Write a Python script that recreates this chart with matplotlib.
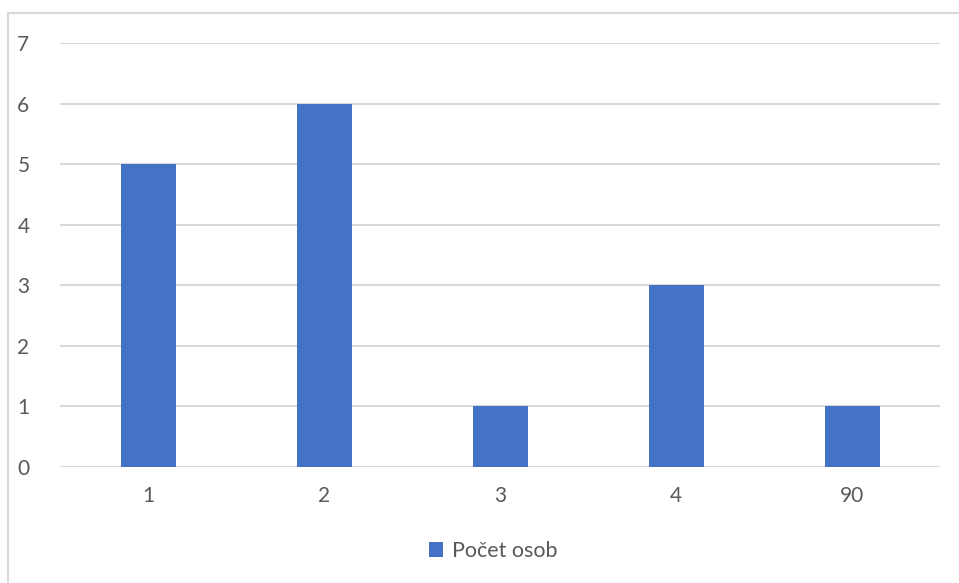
import numpy as np
import matplotlib.pyplot as plt
from matplotlib.patches import Rectangle

categories = ["1", "2", "3", "4", "90"]
counts = [5, 6, 1, 3, 1]
series_name = "Počet osob"

plt.rcParams['font.family'] = ['Lato', 'DejaVu Sans']

fig = plt.figure(figsize=(9.59, 5.83), dpi=100)
fig.patch.set_facecolor("white")

# chart frame, bottom edge runs off the image
fig.patches.append(Rectangle((8 / 959, -0.05), 1.0, 1 - 13 / 583 + 0.05,
                             transform=fig.transFigure, fill=False,
                             edgecolor="#D9D9D9", linewidth=1.5))

ax = fig.add_axes([60 / 959, 1 - 467 / 583, 880 / 959, 424 / 583])
x = np.arange(len(categories))
bars = ax.bar(x, counts, width=0.3125, color="#4472C4", label=series_name, zorder=3)

ax.set_xlim(-0.5, len(categories) - 0.5)
ax.set_ylim(0, 7)
ax.set_yticks(range(0, 8))
ax.set_xticks(x)
ax.set_xticklabels(categories)
ax.yaxis.grid(True, color="#D9D9D9", linewidth=1.5, zorder=0)
for s in ax.spines.values():
    s.set_visible(False)
ax.tick_params(axis="both", length=0, labelsize=15, labelcolor="#595959")
ax.tick_params(axis="y", pad=22)
ax.tick_params(axis="x", pad=14)

ax.legend(loc="center", bbox_to_anchor=(493 / 959, 1 - 551 / 583), bbox_transform=fig.transFigure,
          frameon=False, fontsize=15.5, labelcolor="#595959", handlelength=0.65,
          handleheight=0.65, handletextpad=0.4)

fig.savefig("out.png", dpi=100)
